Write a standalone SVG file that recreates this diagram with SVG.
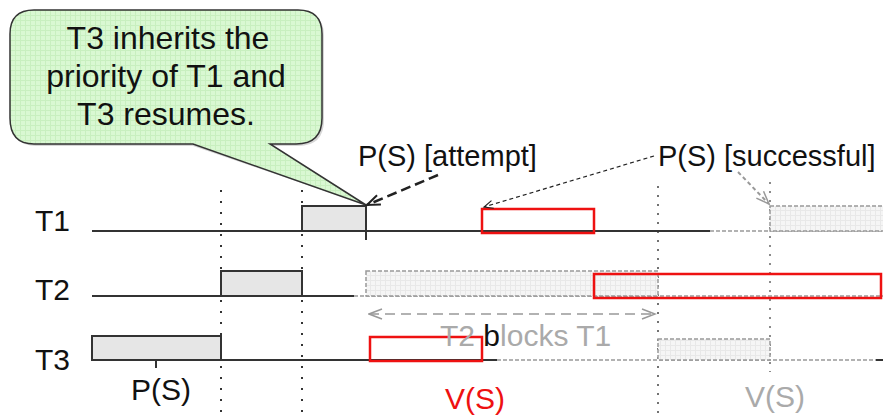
<svg xmlns="http://www.w3.org/2000/svg" width="883" height="416" viewBox="0 0 883 416">
<defs>
<pattern id="gg" width="5" height="5" patternUnits="userSpaceOnUse">
<rect width="5" height="5" fill="#d9f8d2"/>
<path d="M0 0.5H5M0.5 0V5" stroke="#c8efbf" stroke-width="1"/>
</pattern>
<pattern id="gr" width="5" height="5" patternUnits="userSpaceOnUse">
<rect width="5" height="5" fill="#f5f5f5"/>
<path d="M0 0.5H5M0.5 0V5" stroke="#e8e8e8" stroke-width="1"/>
</pattern>
<marker id="openDark" markerWidth="16" markerHeight="12" refX="14" refY="6" orient="auto" markerUnits="userSpaceOnUse">
<path d="M1 1L14 6L1 11" fill="none" stroke="#222" stroke-width="2"/>
</marker>
<marker id="openThin" markerWidth="12" markerHeight="10" refX="10" refY="5" orient="auto" markerUnits="userSpaceOnUse">
<path d="M1 1L10 5L1 9" fill="none" stroke="#222" stroke-width="1.2"/>
</marker>
<marker id="openGray" markerWidth="16" markerHeight="12" refX="14" refY="6" orient="auto" markerUnits="userSpaceOnUse">
<path d="M1 1L14 6L1 11" fill="none" stroke="#999" stroke-width="1.5"/>
</marker>
<marker id="openGrayS" markerWidth="16" markerHeight="12" refX="1" refY="6" orient="auto" markerUnits="userSpaceOnUse">
<path d="M14 1L1 6L14 11" fill="none" stroke="#999" stroke-width="1.5"/>
</marker>
</defs>
<style>
text{font-family:"Liberation Sans",Arial,sans-serif;fill:#111}
.lbl{font-size:30px}
.cap{font-size:29px}
.co{font-size:32px;text-anchor:middle}
.solid{stroke:#333;stroke-width:2;fill:none}
.ghost{stroke:#999;stroke-width:1.5;stroke-dasharray:4 2;fill:none}
.box{fill:#e6e6e6;stroke:#333;stroke-width:2}
.gbox{fill:url(#gr);stroke:#999;stroke-width:1.5;stroke-dasharray:4 2}
.red{fill:none;stroke:#ee1111;stroke-width:2.5}
.dots{stroke:#333;stroke-width:2;stroke-dasharray:2 9;fill:none}
</style>
<rect width="883" height="416" fill="#ffffff"/>

<g id="guides">
<line class="dots" x1="221" y1="190" x2="221" y2="412"/>
<line class="dots" x1="302" y1="190" x2="302" y2="412"/>
<line x1="658" y1="186" x2="658" y2="414" stroke="#444" stroke-width="1.5" stroke-dasharray="2 7 2 7"/>
<line x1="770" y1="182" x2="770" y2="372" stroke="#666" stroke-width="1.5" stroke-dasharray="2 7"/>
</g>

<g id="T1">
<text class="lbl" x="35" y="231">T1</text>
<line class="solid" x1="92" y1="231" x2="710" y2="231"/>
<line class="ghost" x1="710" y1="231" x2="883" y2="231"/>
<rect class="box" x="302" y="206" width="64" height="25"/>
<line class="solid" x1="366" y1="206" x2="366" y2="240"/>
<rect class="red" x="482" y="209" width="112" height="24"/>
<rect class="gbox" x="770" y="206" width="120" height="25"/>
</g>

<g id="T2">
<text class="lbl" x="35" y="300">T2</text>
<line class="solid" x1="92" y1="296" x2="354" y2="296"/>
<line class="ghost" x1="354" y1="296" x2="883" y2="296"/>
<rect class="box" x="221" y="271" width="81" height="25"/>
<rect class="gbox" x="366" y="271" width="292" height="25"/>
<rect class="red" x="594" y="274" width="287" height="24"/>
</g>

<g id="T3">
<text class="lbl" x="35" y="370">T3</text>
<line class="solid" x1="92" y1="360" x2="497" y2="360"/>
<line class="ghost" x1="497" y1="360" x2="876" y2="360"/>
<line class="solid" x1="876" y1="360" x2="883" y2="360"/>
<rect class="box" x="92" y="336" width="129" height="24"/>
<line class="solid" x1="156" y1="360" x2="156" y2="368"/>
<rect class="gbox" x="658" y="339" width="112" height="21"/>
<rect class="red" x="370" y="337" width="112" height="24"/>
</g>

<g id="callout">
<path d="M36 12H300Q324 12 324 36V120Q324 146 298 146H272L366 205L193 146H36Q12 146 12 120V36Q12 12 36 12Z" fill="#999" opacity="0.4"/>
<path d="M34 10H298Q322 10 322 34V118Q322 144 296 144H270L366 205L193 144H34Q10 144 10 118V34Q10 10 34 10Z" fill="url(#gg)" stroke="#333" stroke-width="1.5"/>
<text class="co" x="168" y="49">T3 inherits the</text>
<text class="co" x="166" y="87">priority of T1 and</text>
<text class="co" x="166" y="125">T3 resumes.</text>
</g>

<g id="labels">
<text class="cap" x="358" y="166">P(S) [attempt]</text>
<text class="cap" x="658" y="166">P(S) [successful]</text>
<text class="lbl" text-anchor="middle" x="161" y="400">P(S)</text>
<text class="lbl" text-anchor="middle" x="475" y="409" style="fill:#ee1111">V(S)</text>
<text class="lbl" text-anchor="middle" x="775" y="407" style="fill:#aaa">V(S)</text>
<text class="lbl" x="440" y="346" style="fill:#aaa">T2 <tspan style="fill:#111">b</tspan>locks T1</text>
</g>

<g id="connectors">
<line x1="438" y1="175" x2="367" y2="205" stroke="#222" stroke-width="2.5" stroke-dasharray="10 5" marker-end="url(#openDark)"/>
<line x1="654" y1="156" x2="484" y2="207" stroke="#222" stroke-width="1.2" stroke-dasharray="4 3" marker-end="url(#openThin)"/>
<line x1="738" y1="172" x2="769" y2="204" stroke="#999" stroke-width="2" stroke-dasharray="4 3" marker-end="url(#openGray)"/>
<line x1="369" y1="314" x2="655" y2="314" stroke="#999" stroke-width="1.5" stroke-dasharray="10 6" marker-start="url(#openGrayS)" marker-end="url(#openGray)"/>
</g>
</svg>
